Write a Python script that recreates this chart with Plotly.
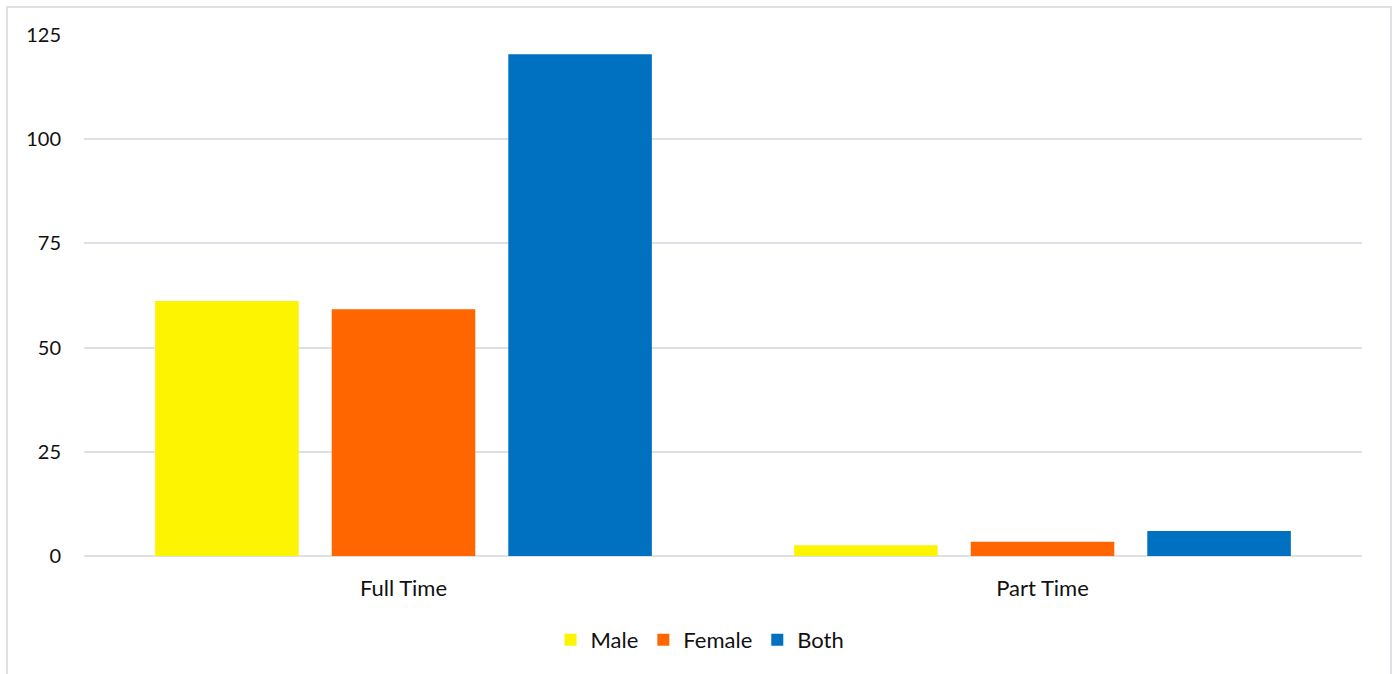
import plotly.graph_objects as go

categories = ["Full Time", "Part Time"]
male = [61.2, 2.6]
female = [59.2, 3.4]
both = [120.4, 6.0]
y_ticks = [0, 25, 50, 75, 100, 125]

FONT = "Lato, Carlito, Calibri, sans-serif"

fig = go.Figure()
fig.add_trace(go.Bar(name="Male", x=categories, y=male, marker=dict(color="#FCF400", line=dict(width=0))))
fig.add_trace(go.Bar(name="Female", x=categories, y=female, marker=dict(color="#FF6600", line=dict(width=0))))
fig.add_trace(go.Bar(name="Both", x=categories, y=both, marker=dict(color="#0070C0", line=dict(width=0))))

W, H = 1394, 674
L, R, T, B = 84, 32, 35, 118
pw, ph = W - L - R, H - T - B

def px_x(x):
    return (x - L) / pw

def px_y(y):
    return (H - B - y) / ph

fig.update_layout(
    width=W, height=H,
    margin=dict(l=L, r=R, t=T, b=B, pad=0),
    paper_bgcolor="white", plot_bgcolor="white",
    barmode="group", bargap=0.171, bargroupgap=0.187,
    font=dict(family=FONT, size=20, color="#111111"),
    showlegend=True,
    legend=dict(orientation="h", x=px_x(700), xanchor="center", y=px_y(640), yanchor="middle",
                font=dict(size=22), itemwidth=30, traceorder="normal"),
    xaxis=dict(showgrid=False, showline=False, ticks="", tickfont=dict(size=22),
               ticklabelstandoff=17),
    yaxis=dict(range=[0, 125], tickvals=y_ticks, showgrid=True, gridcolor="#DDE1E6", gridwidth=1.5,
               zeroline=True, zerolinecolor="#DDE1E6", zerolinewidth=1.5,
               showline=False, ticks="", tickfont=dict(size=20), ticklabelstandoff=22),
    shapes=[dict(type="rect", xref="paper", yref="paper",
                 x0=px_x(7), x1=px_x(1391), y0=px_y(690), y1=px_y(7),
                 line=dict(color="#DDE1E6", width=2), fillcolor="rgba(0,0,0,0)", layer="below")],
)

fig.write_html("out.html", config={"displayModeBar": False},
               post_script="document.body.style.margin='0';document.body.style.overflow='hidden';")
